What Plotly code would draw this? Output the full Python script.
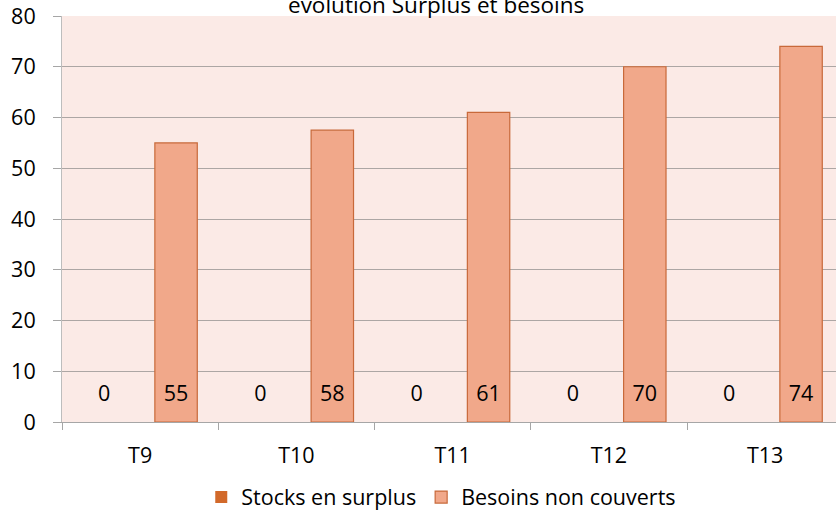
import plotly.graph_objects as go

# Chart data
categories = ["T9", "T10", "T11", "T12", "T13"]
stocks_surplus = [0, 0, 0, 0, 0]
besoins_non_couverts = [55, 57.5, 61, 70, 74]
series_names = ["Stocks en surplus", "Besoins non couverts"]
y_ticks = [0, 10, 20, 30, 40, 50, 60, 70, 80]

FONT = "Open Sans"
TEXT_COLOR = "#000000"
FS = 21.5
BAR_GAP = 0.08
BAR_GROUP_GAP = 0.41

x_idx = list(range(len(categories)))
slot = (1 - BAR_GAP) / len(series_names)
offsets = [-slot / 2, slot / 2]

fig = go.Figure()
fig.add_trace(go.Bar(
    x=x_idx, y=stocks_surplus, name=series_names[0],
    marker=dict(color="#D2692A", line=dict(color="#D2692A", width=0)),
))
fig.add_trace(go.Bar(
    x=x_idx, y=besoins_non_couverts, name=series_names[1],
    marker=dict(color="#F1A88A", line=dict(color="#C8693A", width=1.2)),
))

# Value labels sit near the base of each bar
for series, off in zip([stocks_surplus, besoins_non_couverts], offsets):
    fig.add_trace(go.Scatter(
        x=[i + off for i in x_idx], y=[5.2] * len(x_idx),
        mode="text", text=[f"{v:.0f}" for v in series],
        textfont=dict(family=FONT, size=FS, color=TEXT_COLOR),
        showlegend=False, hoverinfo="skip", cliponaxis=False,
    ))

fig.add_annotation(
    text="evolution Surplus et besoins", xref="paper", yref="paper",
    x=0.483, y=1.0, xanchor="center", yanchor="bottom", yshift=-6,
    showarrow=False, font=dict(family=FONT, size=22.5, color=TEXT_COLOR),
)

fig.update_layout(
    width=836, height=514,
    margin=dict(l=62, r=0, t=16, b=92, autoexpand=False),
    paper_bgcolor="#FFFFFF", plot_bgcolor="#FBEAE6",
    barmode="group", bargap=BAR_GAP, bargroupgap=BAR_GROUP_GAP,
    font=dict(family=FONT, size=FS, color=TEXT_COLOR),
    showlegend=True,
    legend=dict(
        orientation="h", x=0.49, y=-0.185, xanchor="center", yanchor="middle",
        font=dict(family=FONT, size=FS, color=TEXT_COLOR),
        itemwidth=30, traceorder="normal",
    ),
    xaxis=dict(
        range=[-0.5, -0.5 + 774 / 156.25],
        tickmode="array", tickvals=x_idx, ticktext=categories,
        ticks="", showgrid=False, zeroline=False,
        showline=True, linecolor="#A6A6A6", linewidth=1,
        ticklabelstandoff=14,
        tickfont=dict(family=FONT, size=FS, color=TEXT_COLOR),
        minor=dict(tickmode="array", tickvals=[i - 0.5 for i in x_idx],
                   ticks="outside", ticklen=7, tickcolor="#A6A6A6", showgrid=False),
    ),
    yaxis=dict(
        range=[0, 80], tickmode="array", tickvals=y_ticks,
        ticks="outside", ticklen=8, tickcolor="#A6A6A6",
        showgrid=True, gridcolor="#ACA6A4", gridwidth=1,
        zeroline=False, showline=True, linecolor="#BDBDBD", linewidth=1,
        ticklabelstandoff=13,
        tickfont=dict(family=FONT, size=FS, color=TEXT_COLOR),
    ),
)

fig.write_html("out.html")
